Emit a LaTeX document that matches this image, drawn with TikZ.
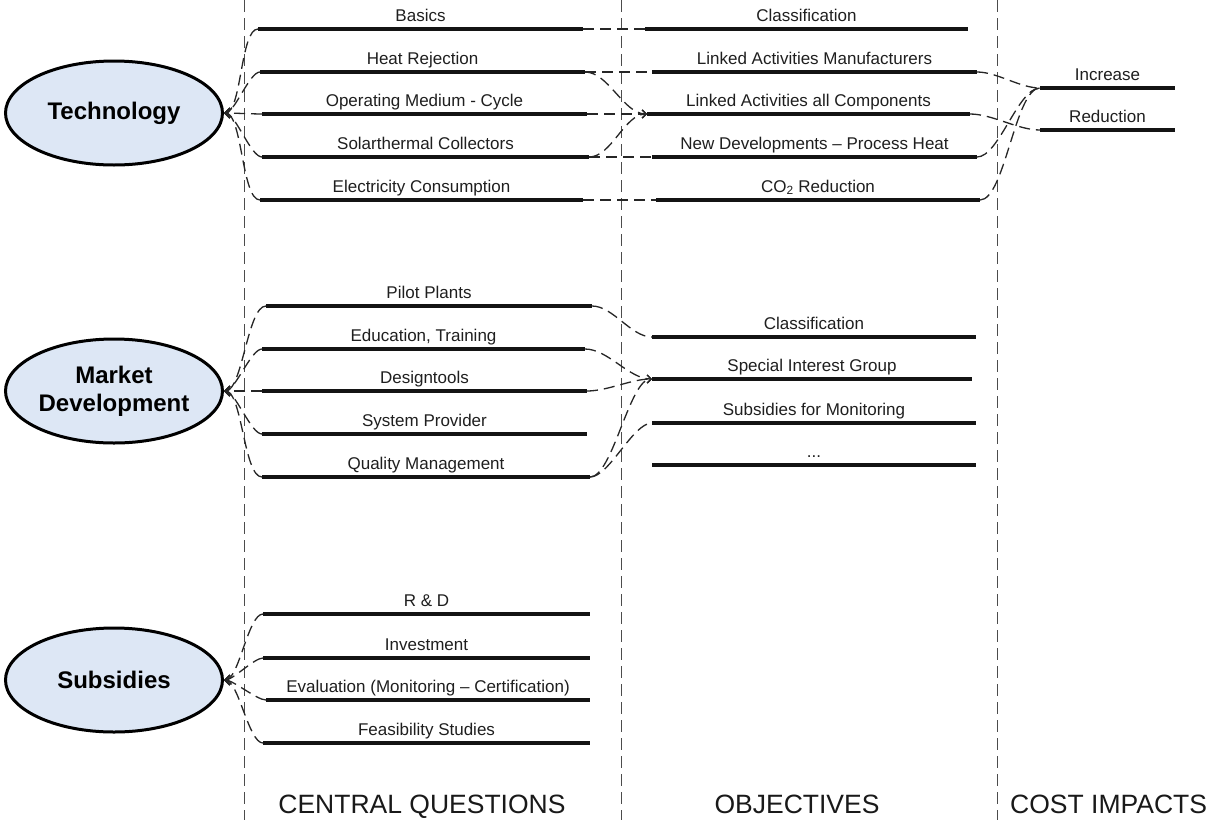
\documentclass[tikz,border=0pt]{standalone}
\usepackage{fontspec}
\setmainfont{Liberation Sans}
\usetikzlibrary{shapes.geometric,arrows.meta}
\definecolor{topicblue}{RGB}{221,231,245}
\newcommand{\barline}[5]{%
  \coordinate (#1-l) at (#2,#4);
  \coordinate (#1-r) at (#3,#4);
  \node[lbl] (#1) at ({(#2+#3)/2},{#4-8}) {#5};
}
\newcommand{\drawbar}[1]{\draw[bar] (#1-l) -- (#1-r);}
\tikzset{
  bar/.style={line width=4pt, draw=black!92},
  lbl/.style={anchor=base, inner sep=0pt, font=\fontsize{17}{20}\selectfont, text=black!88},
  conn/.style={line width=1.3pt, dash pattern=on 11pt off 6pt, draw=black!85},
  divider/.style={line width=1pt, dash pattern=on 12pt off 6pt, draw=black!70},
  topic/.style={ellipse, draw=black, line width=3pt, fill=topicblue, minimum width=217pt, minimum height=104pt, inner sep=0pt, align=center, font=\bfseries\fontsize{24}{28}\selectfont},
  head/.style={anchor=base, inner sep=0pt, font=\fontsize{26.5}{30}\selectfont, text=black!90},
  tip/.style={-{Straight Barb[length=5pt,width=10pt,line width=1.3pt]}},
  ltip/.style={-{Straight Barb[length=4pt,width=8pt,line width=1.2pt]}},
}
\begin{document}
\begin{tikzpicture}[x=1pt,y=-1pt]
\useasboundingbox (0,0) rectangle (1213,820);
\fill[white] (0,0) rectangle (1213,820);

% column dividers
\coordinate (d1t) at (244,0); \coordinate (d1b) at (244,820);
\coordinate (d2t) at (621,0); \coordinate (d2b) at (621,820);
\coordinate (d3t) at (997,0); \coordinate (d3b) at (997,820);
\draw[divider] (d1t) -- (d1b);
\draw[divider] (d2t) -- (d2b);
\draw[divider] (d3t) -- (d3b);

% topics
\node[topic] (tech) at (114,113) {Technology};
\node[topic] (mark) at (114,391) {Market\\Development};
\node[topic] (subs) at (114,680) {Subsidies};

% Technology: central questions
\barline{tq1}{258}{583}{29}{Basics}
\barline{tq2}{260}{585}{72}{Heat Rejection}
\barline{tq3}{262}{587}{114}{Operating Medium - Cycle}
\barline{tq4}{262}{589}{157}{Solarthermal Collectors}
\barline{tq5}{260}{583}{200}{Electricity Consumption}
% Technology: objectives
\barline{to1}{645}{968}{29}{Classification}
\barline{to2}{652}{977}{72}{Linked Activities Manufacturers}
\barline{to3}{647}{970}{114}{Linked Activities all Components}
\barline{to4}{652}{977}{157}{New Developments -- Process Heat}
\barline{to5}{656}{980}{200}{CO\textsubscript{2} Reduction}
% cost impacts
\barline{ci1}{1040}{1175}{88}{Increase}
\barline{ci2}{1040}{1175}{130}{Reduction}

% Market: central questions
\barline{mq1}{266}{592}{306}{Pilot Plants}
\barline{mq2}{262}{585}{349}{Education, Training}
\barline{mq3}{262}{587}{391}{Designtools}
\barline{mq4}{262}{587}{434}{System Provider}
\barline{mq5}{262}{590}{477}{Quality Management}
% Market: objectives
\barline{mo1}{652}{976}{337}{Classification}
\barline{mo2}{652}{972}{379}{Special Interest Group}
\barline{mo3}{652}{976}{423}{Subsidies for Monitoring}
\barline{mo4}{652}{976}{465}{...}

% Subsidies: central questions
\barline{sq1}{263}{590}{614}{R \& D}
\barline{sq2}{263}{590}{658}{Investment}
\barline{sq3}{266}{590}{700}{Evaluation (Monitoring -- Certification)}
\barline{sq4}{263}{590}{743}{Feasibility Studies}

% connectors to topics
\foreach \q in {tq1,tq2,tq3,tq4,tq5}
  {\draw[conn,tip] (\q-l) to[out=180,in=0,looseness=0.5] (tech.east);}
\foreach \q in {mq1,mq2,mq3,mq4,mq5}
  {\draw[conn,tip] (\q-l) to[out=180,in=0,looseness=0.5] (mark.east);}
\foreach \q in {sq1,sq2,sq3,sq4}
  {\draw[conn,tip] (\q-l) to[out=180,in=0,looseness=0.5] (subs.east);}

% Technology -> objectives
\draw[conn] (tq1-r) -- (to1-l);
\draw[conn] (tq2-r) -- (to2-l);
\draw[conn,ltip] (tq3-r) -- (to3-l);
\draw[conn] (tq4-r) -- (to4-l);
\draw[conn] (tq5-r) -- (to5-l);
\draw[conn,ltip] (tq2-r) to[out=0,in=180,looseness=0.8] (to3-l);
\draw[conn,ltip] (tq4-r) to[out=0,in=180,looseness=0.8] (to3-l);

% objectives -> cost impacts
\draw[conn] (to2-r) to[out=0,in=180,looseness=0.8] (ci1-l);
\draw[conn] (to3-r) to[out=0,in=180,looseness=0.8] (ci2-l);
\draw[conn] (to4-r) to[out=0,in=180,looseness=0.6] (ci1-l);
\draw[conn] (to5-r) to[out=0,in=180,looseness=0.5] (ci1-l);

% Market -> objectives
\draw[conn] (mq1-r) to[out=0,in=180,looseness=0.8] (mo1-l);
\draw[conn,ltip] (mq2-r) to[out=0,in=180,looseness=0.8] (mo2-l);
\draw[conn,ltip] (mq3-r) to[out=0,in=180,looseness=0.8] (mo2-l);
\draw[conn,ltip] (mq5-r) to[out=0,in=180,looseness=0.5] (mo2-l);
\draw[conn] (mq5-r) to[out=0,in=180,looseness=0.6] (mo3-l);

% bars on top
\foreach \q in {tq1,tq2,tq3,tq4,tq5,to1,to2,to3,to4,to5,ci1,ci2,mq1,mq2,mq3,mq4,mq5,mo1,mo2,mo3,mo4,sq1,sq2,sq3,sq4}
  {\drawbar{\q}}

% column headings
\node[head] (h1) at (422,813) {CENTRAL QUESTIONS};
\node[head] (h2) at (797,813) {OBJECTIVES};
\node[head,anchor=base west] (h3) at (1010,813) {COST IMPACTS};
\end{tikzpicture}
\end{document}
